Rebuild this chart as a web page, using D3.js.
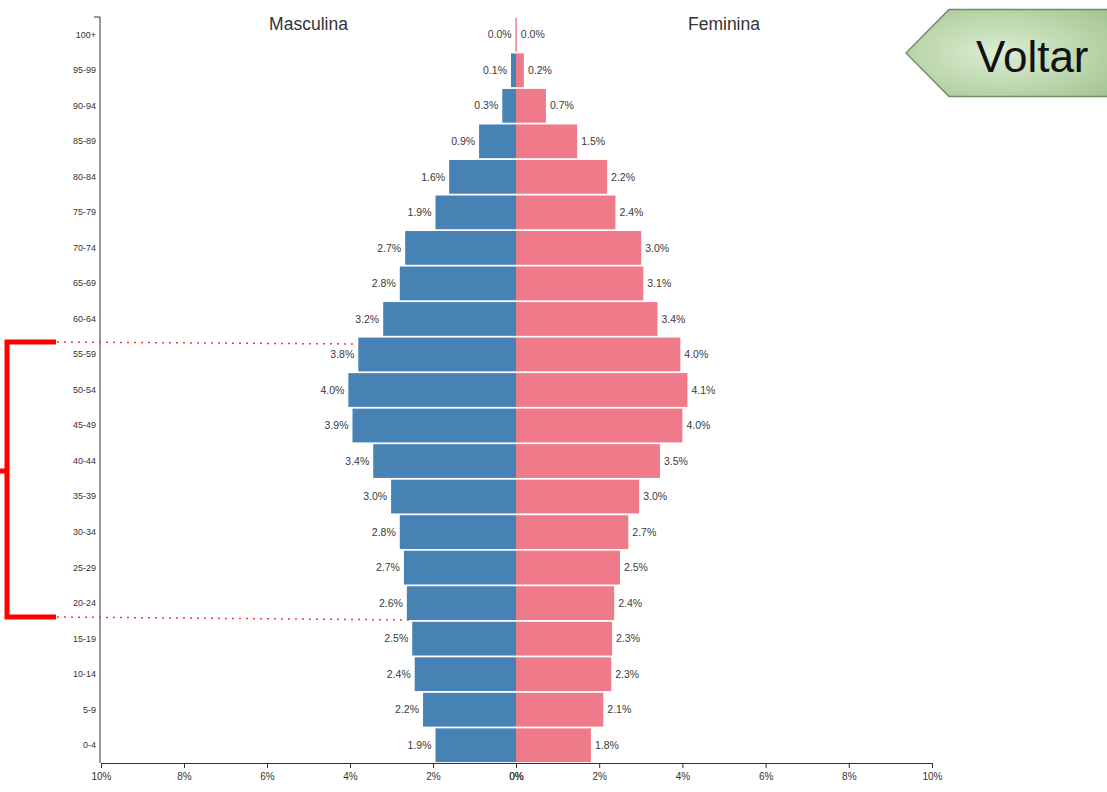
<!DOCTYPE html>
<html>
<head>
<meta charset="utf-8">
<script src="https://cdn.jsdelivr.net/npm/d3@7"></script>
<style>
  html, body { margin: 0; padding: 0; background: #fff; }
  svg { display: block; }
  text { font-family: "Liberation Sans", Arial, sans-serif; }
</style>
</head>
<body>
<svg id="chart" width="1107" height="792"></svg>
<script>
const ageGroups = ["100+","95-99","90-94","85-89","80-84","75-79","70-74","65-69","60-64","55-59","50-54","45-49","40-44","35-39","30-34","25-29","20-24","15-19","10-14","5-9","0-4"];
const maleValues = [0.01,0.12,0.33,0.89,1.61,1.94,2.67,2.8,3.2,3.8,4.04,3.94,3.44,3.01,2.8,2.7,2.63,2.5,2.44,2.24,1.94];
const femaleValues = [0.02,0.19,0.72,1.47,2.19,2.39,3.01,3.06,3.4,3.95,4.12,4.0,3.46,2.96,2.7,2.5,2.36,2.31,2.29,2.1,1.8];
const xTicks = [0,2,4,6,8,10];
const sideLabels = ["Masculina","Feminina"];
const buttonLabel = "Voltar";

const svg = d3.select("#chart");
const yTop = 17, yBottom = 763, xLeft = 101, xCenter = 516, xRight = 932;

const y = d3.scaleBand().domain(ageGroups).range([yTop, yBottom]).paddingInner(0.05).paddingOuter(0.025);
const xL = d3.scaleLinear().domain([0,10]).range([xCenter, xLeft]);
const xR = d3.scaleLinear().domain([0,10]).range([xCenter, xRight]);

// bars
const g = svg.append("g");
g.selectAll("rect.m").data(ageGroups).join("rect")
  .attr("x", (d,i) => xL(maleValues[i]))
  .attr("y", d => y(d))
  .attr("width", (d,i) => xL(0) - xL(maleValues[i]))
  .attr("height", y.bandwidth())
  .attr("fill", "#4682b4");
g.selectAll("rect.f").data(ageGroups).join("rect")
  .attr("x", xR(0))
  .attr("y", d => y(d))
  .attr("width", (d,i) => xR(femaleValues[i]) - xR(0))
  .attr("height", y.bandwidth())
  .attr("fill", "#ef7a89");

// value labels
g.selectAll("text.ml").data(ageGroups).join("text")
  .attr("x", (d,i) => xL(maleValues[i]) - 4)
  .attr("y", d => y(d) + y.bandwidth()/2)
  .attr("dy", "0.35em")
  .attr("text-anchor", "end")
  .attr("font-size", 10.5)
  .attr("fill", "#3a3a3a")
  .text((d,i) => maleValues[i].toFixed(1) + "%");
g.selectAll("text.fl").data(ageGroups).join("text")
  .attr("x", (d,i) => xR(femaleValues[i]) + 4)
  .attr("y", d => y(d) + y.bandwidth()/2)
  .attr("dy", "0.35em")
  .attr("text-anchor", "start")
  .attr("font-size", 10.5)
  .attr("fill", "#3a3a3a")
  .text((d,i) => femaleValues[i].toFixed(1) + "%");

// axes
const yAxis = d3.axisLeft(y).tickSize(0).tickPadding(4);
const ya = svg.append("g").attr("transform", `translate(${xLeft - 1},0)`).call(yAxis);
ya.select(".domain").attr("d", `M-6,${yTop}H0V${yBottom}`).attr("stroke", "#333");
ya.selectAll("text").attr("font-size", 9).attr("fill", "#333").attr("font-family", "Liberation Sans, Arial, sans-serif");

const fmt = d => d + "%";
const xaL = svg.append("g").attr("transform", `translate(0,${yBottom})`)
  .call(d3.axisBottom(xL).tickValues(xTicks).tickFormat(fmt).tickSize(5).tickPadding(5).tickSizeOuter(0));
const xaR = svg.append("g").attr("transform", `translate(0,${yBottom})`)
  .call(d3.axisBottom(xR).tickValues(xTicks).tickFormat(fmt).tickSize(5).tickPadding(5).tickSizeOuter(0));
[xaL, xaR].forEach(a => {
  a.select(".domain").attr("stroke", "#333");
  a.selectAll("line").attr("stroke", "#333");
  a.selectAll("text").attr("font-size", 10).attr("fill", "#333").attr("font-family", "Liberation Sans, Arial, sans-serif");
});

// side headers
svg.append("text").attr("x", (xLeft + xCenter)/2).attr("y", 30).attr("text-anchor", "middle")
  .attr("font-size", 17.5).attr("fill", "#333").text(sideLabels[0]);
svg.append("text").attr("x", (xCenter + xRight)/2).attr("y", 30).attr("text-anchor", "middle")
  .attr("font-size", 17.5).attr("fill", "#333").text(sideLabels[1]);

// red bracket annotation
svg.append("path").attr("d", "M56,342H7V617H56").attr("fill", "none")
  .attr("stroke", "#ff0000").attr("stroke-width", 5);
svg.append("path").attr("d", "M0,471H7").attr("stroke", "#ff0000").attr("stroke-width", 5);
svg.append("line").attr("x1", 57).attr("y1", 342).attr("x2", 358).attr("y2", 344)
  .attr("stroke", "#f03a3a").attr("stroke-width", 1.5).attr("stroke-dasharray", "2,5");
svg.append("line").attr("x1", 57).attr("y1", 617).attr("x2", 412).attr("y2", 620)
  .attr("stroke", "#f03a3a").attr("stroke-width", 1.5).attr("stroke-dasharray", "2,5");

// Voltar button
const defs = svg.append("defs");
const grad = defs.append("radialGradient").attr("id", "gbtn").attr("cx", "45%").attr("cy", "50%").attr("r", "70%");
grad.append("stop").attr("offset", "0%").attr("stop-color", "#dcedd2");
grad.append("stop").attr("offset", "100%").attr("stop-color", "#a5c692");
svg.append("path").attr("d", "M906,53L949,9.5H1112V96.5H949Z")
  .attr("fill", "url(#gbtn)").attr("stroke", "#6f8a66").attr("stroke-width", 1.3);
svg.append("text").attr("x", 976).attr("y", 72).attr("font-size", 44)
  .attr("fill", "#111").attr("font-family", "Carlito, 'Open Sans', 'Liberation Sans', sans-serif")
  .text(buttonLabel);
</script>
</body>
</html>
